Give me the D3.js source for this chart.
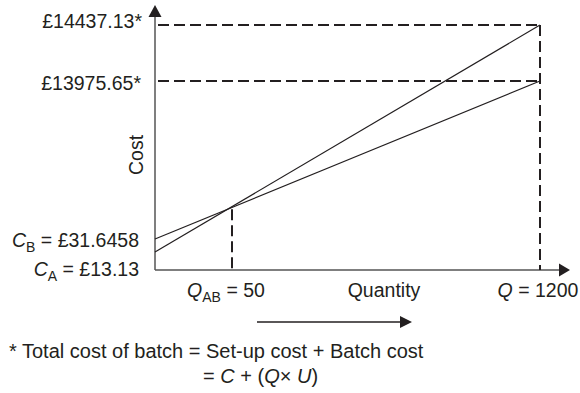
<!DOCTYPE html>
<html><head><meta charset="utf-8">
<script src="https://cdn.jsdelivr.net/npm/d3@7"></script>
<style>body{margin:0;background:#fff}svg{display:block;font-family:"Liberation Sans",Arial,sans-serif}</style>
</head><body><svg id="c" width="580" height="393"></svg>
<script>
// Data
const quantities = [0, 50, 1200];          // Q values: origin, break-even Q_AB, batch Q
const setupCosts = {A: 13.13, B: 31.6458}; // C
const totalCosts = {A: 14437.13, B: 13975.65}; // C + Q×U at Q=1200
const seriesNames = ["A", "B"];
const yTickLabels = ["£14437.13*", "£13975.65*"];

const svg = d3.select("#c");
const ink = "#231f20";

// schematic (non-linear) scales, as in the original drawing
const x = d3.scaleLinear().domain(quantities).range([155, 232, 540]);
const y = d3.scaleLinear().domain([0, 13.13, 31.6458, 13975.65, 14437.13]).range([270, 252, 239, 81, 25]);

// axes with arrows
svg.append("line").attr("x1", x(0)).attr("x2", 561).attr("y1", y(0)).attr("y2", y(0))
  .attr("stroke", "#555").attr("stroke-width", 1.5);
svg.append("path").attr("d", `M570,${y(0)} L559,${y(0)-6.5} L559,${y(0)+6.5} Z`).attr("fill", ink);
svg.append("line").attr("x1", x(0)).attr("x2", x(0)).attr("y1", y(0)).attr("y2", 15)
  .attr("stroke", "#555").attr("stroke-width", 1.5);
svg.append("path").attr("d", `M${x(0)},5 L${x(0)-6.5},17 L${x(0)+6.5},17 Z`).attr("fill", ink);

// dashed guides
const dash = {"stroke": ink, "stroke-width": 2, "stroke-dasharray": "11,5", "fill": "none"};
function dashed(x1, y1, x2, y2) {
  const l = svg.append("line").attr("x1", x1).attr("y1", y1).attr("x2", x2).attr("y2", y2);
  Object.entries(dash).forEach(([k, v]) => l.attr(k, v));
}
dashed(x(0) + 3, y(totalCosts.A), x(1200), y(totalCosts.A));
dashed(x(0) + 3, y(totalCosts.B), x(1200), y(totalCosts.B));
dashed(x(1200), y(totalCosts.A), x(1200), y(0));

// cost lines
const line = d3.line().x(d => x(d[0])).y(d => y(d[1]));
seriesNames.forEach(s => {
  svg.append("path").datum([[0, setupCosts[s]], [1200, totalCosts[s]]])
    .attr("d", line).attr("stroke", ink).attr("stroke-width", 1.2).attr("fill", "none");
});
// intersection of the two drawn lines -> dashed drop line at Q_AB
const ax0 = x(0), ay0 = y(setupCosts.A), ax1 = x(1200), ay1 = y(totalCosts.A);
const by0 = y(setupCosts.B), by1 = y(totalCosts.B);
const t = (by0 - ay0) / ((ay1 - ay0) - (by1 - by0));
const iy = ay0 + t * (ay1 - ay0);
dashed(x(50), iy, x(50), y(0));

// text
const fs = 19.5;
function txt(xp, yp, anchor, size) {
  return svg.append("text").attr("x", xp).attr("y", yp).attr("text-anchor", anchor)
    .attr("font-size", size || fs).attr("fill", ink);
}
txt(142, 28, "end").text(yTickLabels[0]);
txt(141, 90, "end").text(yTickLabels[1]);
svg.append("text").attr("transform", "translate(143,155) rotate(-90)").attr("text-anchor", "middle")
  .attr("font-size", fs).attr("fill", ink).text("Cost");

function subLabel(xp, yp, anchor, main, sub, rest) {
  const t = txt(xp, yp, anchor);
  t.append("tspan").attr("font-style", "italic").text(main);
  t.append("tspan").attr("font-size", 14).attr("dy", 5).text(sub);
  t.append("tspan").attr("dy", -5).text(rest);
  return t;
}
subLabel(139, 247, "end", "C", "B", " = £31.6458");
subLabel(139, 276, "end", "C", "A", " = £13.13");
subLabel(226, 297, "middle", "Q", "AB", " = 50");
txt(384, 297, "middle").text("Quantity");
const q = txt(538, 297, "middle");
q.append("tspan").attr("font-style", "italic").text("Q");
q.append("tspan").text(" = 1200");

// direction arrow
svg.append("line").attr("x1", 257).attr("x2", 402).attr("y1", 322).attr("y2", 322)
  .attr("stroke", ink).attr("stroke-width", 1.5);
svg.append("path").attr("d", "M412,322 L400,316 L400,328 Z").attr("fill", ink);

// footnote
txt(9, 358, "start", 20).text("* Total cost of batch = Set-up cost + Batch cost");
const f = txt(203, 383, "start", 20);
f.append("tspan").text("= ");
f.append("tspan").attr("font-style", "italic").text("C");
f.append("tspan").text(" + (");
f.append("tspan").attr("font-style", "italic").text("Q");
f.append("tspan").text("× ");
f.append("tspan").attr("font-style", "italic").text("U");
f.append("tspan").text(")");
</script></body></html>
